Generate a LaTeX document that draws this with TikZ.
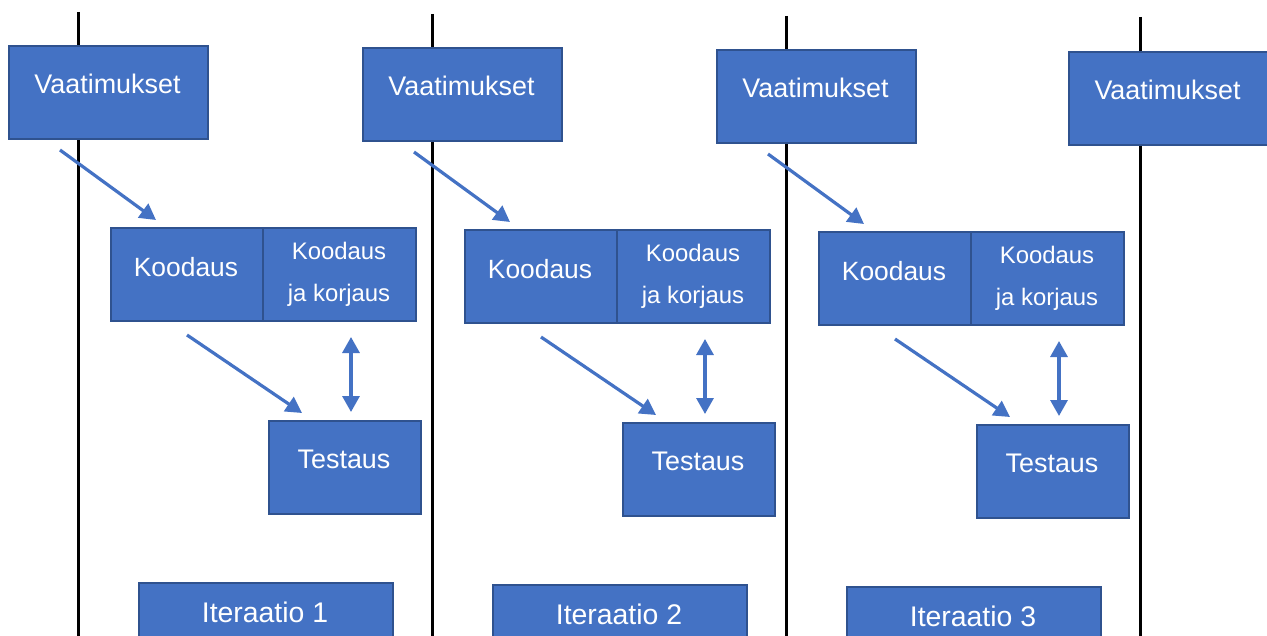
\documentclass[tikz,border=0pt]{standalone}
\usepackage{fontspec}
\setmainfont{Liberation Sans}
\usetikzlibrary{arrows.meta}
\definecolor{boxfill}{HTML}{4472C4}
\definecolor{boxline}{HTML}{2F528F}
\begin{document}
\begin{tikzpicture}[x=1bp,y=-1bp,
 box/.style={draw=boxline,fill=boxfill,line width=1.6bp,inner sep=0,anchor=north west},
 lbl/.style={text=white,anchor=base,inner sep=0},
 big/.style={font=\fontsize{27}{30}\selectfont},
 mid/.style={font=\fontsize{24}{28}\selectfont},
 itf/.style={font=\fontsize{28.5}{32}\selectfont},
 arr/.style={draw=boxfill,line width=3.2bp,-{Triangle[length=16bp,width=17bp]}},
 darr/.style={draw=boxfill,line width=3.2bp,{Triangle[length=16bp,width=17bp]}-{Triangle[length=16bp,width=17bp]}},
 sep/.style={line width=3bp,black}]
\useasboundingbox (0,0) rectangle (1267,636);
% iteration separators
\foreach \i/\t in {0/12,1/14,2/16,3/17}{
  \coordinate (lt\i) at (78+354*\i,\t);
  \coordinate (lb\i) at (78+354*\i,636);
  \draw[sep] (lt\i) -- (lb\i);
}
\foreach \i in {0,1,2}{
  \pgfmathsetmacro\dx{354*\i}
  \pgfmathsetmacro\dy{2*\i}
  \pgfmathtruncatemacro\n{\i+1}
  % requirements
  \node[box,minimum width=199bp,minimum height=93bp] (v\i) at (8+\dx,45+\dy) {};
  \node[lbl,big] (tv\i) at (107.5+\dx,94+\dy) {Vaatimukset};
  % coding
  \node[box,minimum width=152bp,minimum height=93bp] (k\i) at (110+\dx,227+\dy) {};
  \node[lbl,font=\fontsize{26.5}{30}\selectfont] (tk\i) at (186+\dx,277+\dy) {Koodaus};
  \node[box,minimum width=153bp,minimum height=93bp] (kk\i) at (262+\dx,227+\dy) {};
  \node[lbl,mid] (tkk\i) at (339+\dx,260+\dy) {Koodaus};
  \node[lbl,mid] (tkj\i) at (339+\dx,302+\dy) {ja korjaus};
  % testing
  \node[box,minimum width=152bp,minimum height=93bp] (t\i) at (268+\dx,420+\dy) {};
  \node[lbl,big] (tt\i) at (344+\dx,468+\dy) {Testaus};
  % iteration label
  \node[box,minimum width=254bp,minimum height=54bp] (it\i) at (138+\dx,582+\dy) {};
  \node[lbl,itf] (tit\i) at (265+\dx,622+\dy) {Iteraatio \n};
  % connectors
  \coordinate (as\i) at (60+\dx,150+\dy);
  \coordinate (ae\i) at (156+\dx,220+\dy);
  \draw[arr] (as\i) -- (ae\i);
  \coordinate (bs\i) at (187+\dx,335+\dy);
  \coordinate (be\i) at (302+\dx,413+\dy);
  \draw[arr] (bs\i) -- (be\i);
  \coordinate (cs\i) at (351+\dx,337+\dy);
  \coordinate (ce\i) at (351+\dx,412+\dy);
  \draw[darr] (cs\i) -- (ce\i);
}
% next requirements
\node[box,minimum width=199bp,minimum height=93bp] (v3) at (1068,51) {};
\node[lbl,big] (tv3) at (1167.5,100) {Vaatimukset};
\end{tikzpicture}
\end{document}
